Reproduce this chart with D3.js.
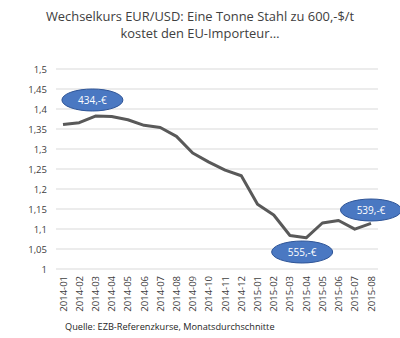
<!DOCTYPE html>
<html><head><meta charset="utf-8">
<script src="https://cdn.jsdelivr.net/npm/d3@7"></script>
<style>body{margin:0;background:#fff;}svg{display:block;}</style>
</head><body>
<script>
const months = ["2014-01","2014-02","2014-03","2014-04","2014-05","2014-06","2014-07","2014-08","2014-09","2014-10","2014-11","2014-12","2015-01","2015-02","2015-03","2015-04","2015-05","2015-06","2015-07","2015-08"];
const rates = [1.3610,1.3659,1.3823,1.3813,1.3732,1.3592,1.3539,1.3316,1.2901,1.2673,1.2472,1.2331,1.1621,1.1350,1.0838,1.0779,1.1150,1.1213,1.0996,1.1139];
const yTicks = [1,1.05,1.1,1.15,1.2,1.25,1.3,1.35,1.4,1.45,1.5];
const callouts = [
  {month:"2014-03", value:1.4225, label:"434,-€"},
  {month:"2015-04", value:1.0425, label:"555,-€"},
  {month:"2015-08", value:1.1475, label:"539,-€"}
];
const titleLines = ["Wechselkurs EUR/USD: Eine Tonne Stahl zu 600,-$/t","kostet den EU-Importeur…"];
const source = "Quelle: EZB-Referenzkurse, Monatsdurchschnitte";

const W=400,H=338;
const svg=d3.select("body").append("svg").attr("width",W).attr("height",H);
const font="'Open Sans', sans-serif";
const x=d3.scalePoint().domain(months).range([63,371]);
const y=d3.scaleLinear().domain([1,1.5]).range([269,69]);

svg.append("g").selectAll("line").data(yTicks).join("line")
  .attr("x1",56).attr("x2",378).attr("y1",d=>y(d)).attr("y2",d=>y(d))
  .attr("stroke","#d9d9d9").attr("stroke-width",1);

svg.append("g").selectAll("text").data(yTicks).join("text")
  .attr("x",47).attr("y",d=>y(d)+3.5).attr("text-anchor","end")
  .attr("font-family",font).attr("font-size",9.5).attr("fill","#404040")
  .text(d=>String(d).replace(".",","));

svg.append("g").selectAll("text").data(months).join("text")
  .attr("transform",d=>`translate(${x(d)+3.5},276) rotate(-90)`)
  .attr("text-anchor","end").attr("font-family",font).attr("font-size",9.5).attr("fill","#404040")
  .text(d=>d);

svg.append("path").datum(rates)
  .attr("d",d3.line().x((d,i)=>x(months[i])).y(d=>y(d)))
  .attr("fill","none").attr("stroke","#595959").attr("stroke-width",3).attr("stroke-linejoin","round");

const cg=svg.append("g").selectAll("g").data(callouts).join("g")
  .attr("transform",d=>`translate(${x(d.month)+(d.month==="2015-08"?0:d.month==="2014-03"?-3:-4)},${y(d.value)})`);
cg.append("ellipse").attr("rx",30.5).attr("ry",11)
  .attr("fill","#4a78c2").attr("stroke","#2f5597").attr("stroke-width",1);
cg.append("text").attr("y",4).attr("text-anchor","middle")
  .attr("font-family",font).attr("font-size",10).attr("fill","#fff").text(d=>d.label);

svg.append("g").selectAll("text").data(titleLines).join("text")
  .attr("x",200).attr("y",(d,i)=>21+i*17).attr("text-anchor","middle")
  .attr("font-family",font).attr("font-size",12.9).attr("fill","#404040").text(d=>d);

svg.append("text").attr("x",65).attr("y",330).attr("font-family",font).attr("font-size",9.2)
  .attr("fill","#262626").text(source);
</script>
</body></html>
